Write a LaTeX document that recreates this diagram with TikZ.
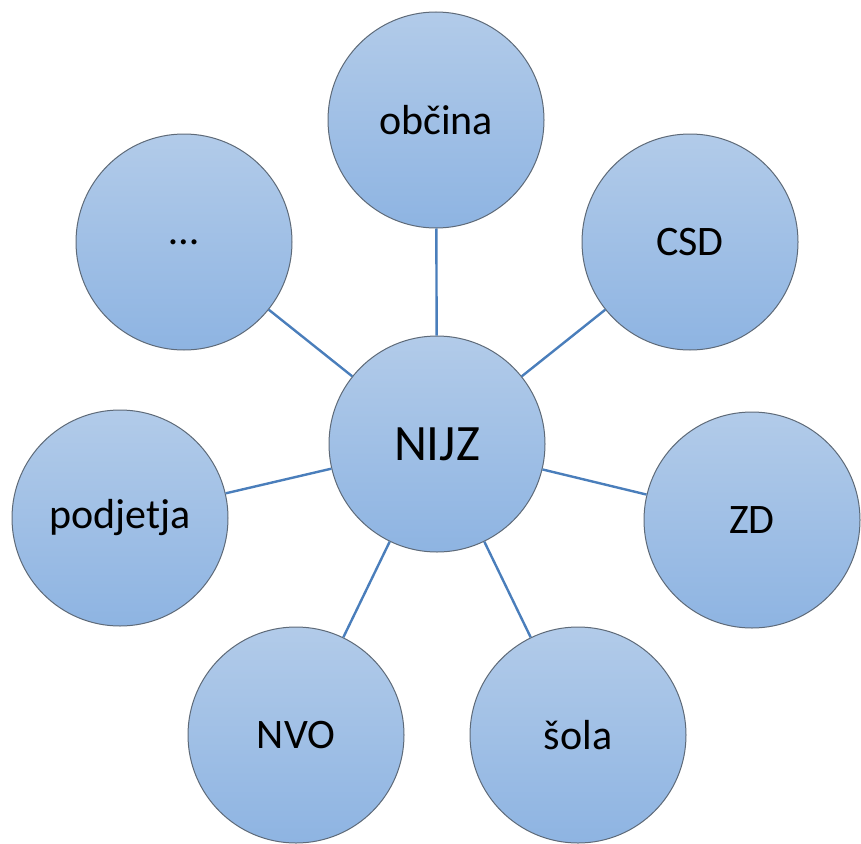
\documentclass[tikz,border=0pt]{standalone}
\usepackage{fontspec}
\setmainfont{Carlito}
\usepackage{tikz}

\definecolor{bubbletop}{HTML}{B2CBE9}
\definecolor{bubblebot}{HTML}{8EB4E2}
\definecolor{bubbleedge}{HTML}{5E6A78}
\definecolor{linkblue}{HTML}{4A7EBB}

\tikzset{
    bubble/.style={circle, draw=bubbleedge, line width=1pt, minimum size=216pt,
        inner sep=0pt, top color=bubbletop, bottom color=bubblebot,
        font=\fontsize{42}{50}\selectfont},
    link/.style={draw=linkblue, line width=2.4pt}
}

\begin{document}
\begin{tikzpicture}[x=1pt, y=-1pt]
    \useasboundingbox (0,0) rectangle (861,843);
    % centre
    \node[bubble, font=\fontsize{51}{60}\selectfont] (nijz) at (437,444) {NIJZ};
    % partners round it
    \foreach \name/\x/\y/\txt in {obcina/436/120/občina, csd/690/242/CSD,
        zd/752/520/ZD, sola/578/735/šola, nvo/296/735/NVO,
        podjetja/120/518/podjetja, drugo/184/242/…} {
        \node[bubble] (\name) at (\x,\y) {\txt};
        \draw[link] (nijz) -- (\name);
    }
\end{tikzpicture}
\end{document}
